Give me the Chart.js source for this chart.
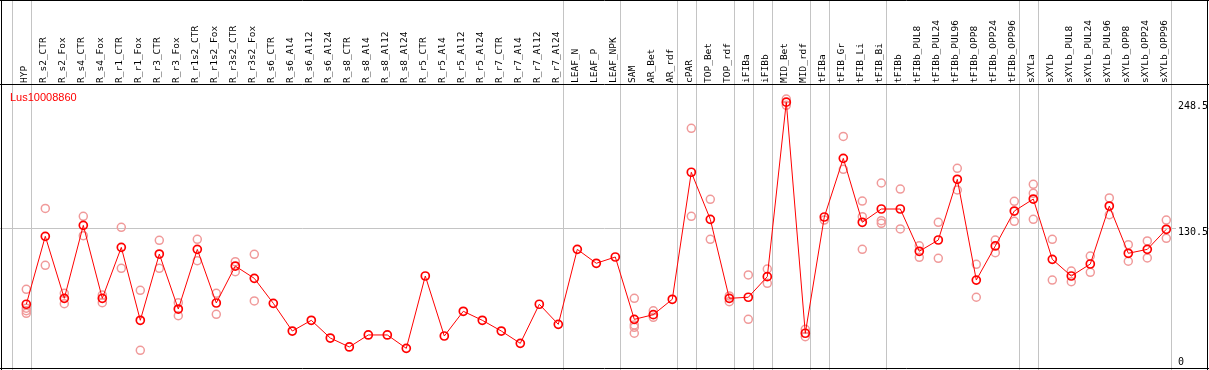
<!DOCTYPE html>
<html>
<head>
<meta charset="utf-8">
<script src="https://cdn.jsdelivr.net/npm/chart.js@4/dist/chart.umd.min.js"></script>
<style>
html,body{margin:0;padding:0;background:#fff;}
#wrap{width:1209px;height:370px;}
</style>
</head>
<body>
<div id="wrap"><canvas id="c" width="1209" height="370"></canvas></div>
<script>
const seriesName = 'Lus10008860';

const categories = ['HYP','R_s2_CTR','R_s2_Fox','R_s4_CTR','R_s4_Fox','R_r1_CTR','R_r1_Fox','R_r3_CTR','R_r3_Fox','R_r1s2_CTR','R_r1s2_Fox','R_r3s2_CTR','R_r3s2_Fox','R_s6_CTR','R_s6_Al4','R_s6_Al12','R_s6_Al24','R_s8_CTR','R_s8_Al4','R_s8_Al12','R_s8_Al24','R_r5_CTR','R_r5_Al4','R_r5_Al12','R_r5_Al24','R_r7_CTR','R_r7_Al4','R_r7_Al12','R_r7_Al24','LEAF_N','LEAF_P','LEAF_NPK','SAM','AR_Bet','AR_rdf','cPAR','TOP_Bet','TOP_rdf','iFIBa','iFIBb','MID_Bet','MID_rdf','tFIBa','tFIB_Gr','tFIB_Li','tFIB_Bi','tFIBb','tFIBb_PUL8','tFIBb_PUL24','tFIBb_PUL96','tFIBb_OPP8','tFIBb_OPP24','tFIBb_OPP96','sXYLa','sXYLb','sXYLb_PUL8','sXYLb_PUL24','sXYLb_PUL96','sXYLb_OPP8','sXYLb_OPP24','sXYLb_OPP96'];

const means = [58.7,122.7,64.3,133,64.3,112.3,43.6,106,54.2,110.4,59.9,94.7,83.1,59.6,33.5,43.6,26.9,18.5,29.8,29.8,17.2,85.3,28.8,52.1,43.6,33.5,21.9,58.7,39.8,110.4,97.3,103.2,44.5,48.9,63.4,183,138.7,64.3,65.3,84.7,249,31.4,140.9,196.1,135.9,148.4,148.4,108.6,119.2,176.4,81.5,113.6,146.5,157.8,101,85.3,96.6,151.2,106.7,110.4,129.3];

const replicates = [
  [72.8,55,52.6,50.2],[149,95.4],[69,59.2],[141.5,123.3],[67.4,60.2],[131.2,92.5],[71.8,15.3],[118.9,92.5],[60.2,47.9],[119.9,99.7],[69,49.2],[98.8,89.4],[105.7,61.8],
  [],[],[],[],[],[],[],[],[],[],[],[],[],[],[],[],[],[],[],
  [64.3,39.2,37,31.4],[52.6,46.4],[],[224.4,141.5],[157.5,119.9],[66.5,61.1],[86.3,44.5],[91.9,78.4],[252,246],[35.1,28.2],
  [138],[216.8,185.8],[155.9,141.2,110.4],[172.9,137.4,134.9],[167.2,129.6],[113.8,102.9],[135.9,102],[186.7,166.3],[96.3,65.3],[119.2,107.3],[155.6,136.8],
  [171.7,163.2,138.7],[119.9,81.5],[90,79.9],[104.1,88.8],[158.8,143],[114.8,99.2],[118.3,102.3],[138,120.8]
];

const yTicks = [0, 130.5, 248.5];
// group boundaries: a separator follows these category indices
const groupEnds = [-1, 0, 28, 31, 34, 35, 37, 38, 39, 41, 42, 45, 52, 53, 60];

const meanPoints = means.map((v, i) => ({x: i, y: v}));
const repPoints = [];
replicates.forEach((arr, i) => arr.forEach(v => repPoints.push({x: i, y: v})));

const decor = {
  id: 'decor',
  beforeDatasetsDraw(chart) {
    const ctx = chart.ctx, xs = chart.scales.x;
    ctx.save();
    ctx.strokeStyle = '#c4c4c4';
    ctx.lineWidth = 1;
    groupEnds.forEach(i => {
      const px = Math.round(xs.getPixelForValue(i + 0.24)) + 0.5;
      ctx.beginPath(); ctx.moveTo(px, 0); ctx.lineTo(px, chart.height); ctx.stroke();
    });
    ctx.restore();
  },
  afterDraw(chart) {
    const ctx = chart.ctx, ys = chart.scales.y, area = chart.chartArea;
    ctx.save();
    ctx.font = '10px "DejaVu Sans Mono"';
    ctx.textBaseline = 'middle';
    ctx.textAlign = 'left';
    yTicks.forEach(v => {
      const py = ys.getPixelForValue(v) + (v === yTicks[0] ? -4.6 : 4);
      ctx.fillStyle = '#fff';
      ctx.fillRect(1176, py - 6, 31, 12);
      ctx.fillStyle = '#000';
      ctx.fillText(String(v), 1178, py);
    });
    ctx.font = '11px "Liberation Sans"';
    ctx.fillStyle = '#ff0000';
    ctx.textBaseline = 'alphabetic';
    ctx.fillText(seriesName, 10, area.top + 16);
    ctx.strokeStyle = '#000';
    ctx.lineWidth = 1;
    ctx.beginPath();
    ctx.moveTo(0, 0.5); ctx.lineTo(1209, 0.5);
    ctx.moveTo(1.5, 0); ctx.lineTo(1.5, 370);
    ctx.moveTo(1207.5, 0); ctx.lineTo(1207.5, 370);
    ctx.moveTo(0, 368.5); ctx.lineTo(1209, 368.5);
    ctx.moveTo(0, area.top - 0.5); ctx.lineTo(1209, area.top - 0.5);
    ctx.stroke();
    ctx.restore();
  }
};

new Chart(document.getElementById('c'), {
  type: 'scatter',
  data: {
    datasets: [
      {
        label: seriesName,
        type: 'line',
        data: meanPoints,
        order: 0,
        showLine: true,
        borderColor: '#ff0000',
        borderWidth: 1,
        tension: 0,
        pointRadius: 4,
        pointBorderWidth: 1.7,
        pointBorderColor: '#ff0000',
        pointBackgroundColor: 'rgba(255,255,255,0)'
      },
      {
        label: 'replicates',
        data: repPoints,
        order: 1,
        showLine: false,
        pointRadius: 4,
        pointBorderWidth: 1.5,
        pointBorderColor: '#f09a9a',
        pointBackgroundColor: 'rgba(255,255,255,0)'
      }
    ]
  },
  options: {
    responsive: false,
    animation: false,
    devicePixelRatio: 1,
    layout: {padding: 0, autoPadding: false},
    plugins: {legend: {display: false}, tooltip: {enabled: false}, title: {display: false}},
    scales: {
      x: {
        type: 'linear',
        position: 'top',
        min: -1.3842,
        max: 62.2474,
        afterBuildTicks(scale) { scale.ticks = categories.map((c, i) => ({value: i})); },
        afterFit(scale) { scale.height = 85; scale.paddingLeft = 0; scale.paddingRight = 0; },
        grid: {display: false, drawTicks: false},
        border: {display: false},
        ticks: {
          autoSkip: false,
          maxRotation: 90,
          minRotation: 90,
          padding: 2,
          labelOffset: 10,
          color: '#000',
          font: {family: 'DejaVu Sans Mono', size: 9.5},
          callback: (v) => categories[v] ?? ''
        }
      },
      y: {
        type: 'linear',
        position: 'right',
        min: -3.2018,
        max: 265.185,
        afterBuildTicks(scale) { scale.ticks = yTicks.map(v => ({value: v})); },
        afterFit(scale) { scale.width = 0; scale.paddingTop = 0; scale.paddingBottom = 0; },
        grid: {
          drawTicks: false,
          color: (c) => (c.tick && c.tick.value === 130.5) ? '#c4c4c4' : 'rgba(0,0,0,0)'
        },
        border: {display: false},
        ticks: {display: false}
      }
    }
  },
  plugins: [decor]
});
</script>
</body>
</html>
